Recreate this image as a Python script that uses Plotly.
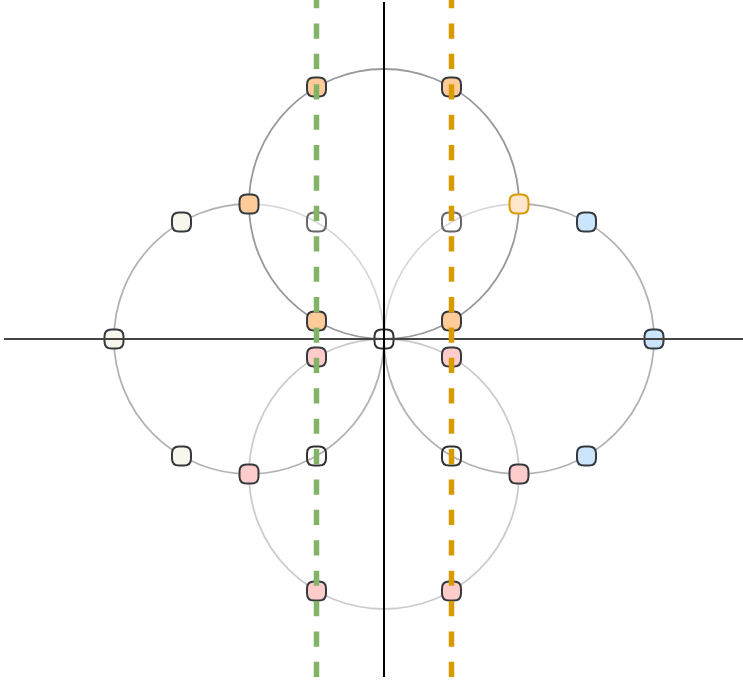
import plotly.graph_objects as go

# ring centres (unit radius) and their outline colours, drawn in this order
ring_x = [0, -1, 1, 0]
ring_y = [-1, 0, 0, 1]
ring_line = ["#cccccc", "#b3b3b3", "#b3b3b3", "#999999"]
ring_fill = ["rgba(0,0,0,0)", "rgba(0,0,0,0)", "rgba(0,0,0,0)", "rgba(255,255,255,0.5)"]

# node points
pt_x = [-0.5, 0.5, -1, 1, -0.5, 0.5, -0.5, 0.5,
        -1.5, -2, -1.5, 1.5, 2, 1.5,
        -0.5, 0.5, -1, 1, -0.5, 0.5, -0.5, 0.5, 0]
pt_y = [1.866, 1.866, 1, 1, 0.134, 0.134, 0.866, 0.866,
        0.866, 0, -0.866, 0.866, 0, -0.866,
        -0.134, -0.134, -1, -1, -1.866, -1.866, -0.866, -0.866, 0]
pt_fill = ["#ffcc99", "#ffcc99", "#ffcc99", "#ffe6cc", "#ffcc99", "#ffcc99",
           "rgba(0,0,0,0)", "rgba(0,0,0,0)",
           "#f9f7ed", "#f9f7ed", "#f9f7ed", "#cce5ff", "#cce5ff", "#cce5ff",
           "#ffcccc", "#ffcccc", "#ffcccc", "#ffcccc", "#ffcccc", "#ffcccc",
           "rgba(0,0,0,0)", "rgba(0,0,0,0)", "rgba(0,0,0,0)"]
pt_edge = ["#36393d"] * 3 + ["#d79b00"] + ["#36393d"] * 2 + ["#666666"] * 2 \
    + ["#36393d"] * 12 + ["#333333"] * 3

# dashed guides
guide_x = [-0.5, 0.5]
guide_color = ["#82b366", "#d79b00"]

scale = 135  # px per unit
W, H = 743, 684
cx, cy = 384, 339

h, r = 9.5, 7
node_path = (f"M {-h+r},{-h} L {h-r},{-h} Q {h},{-h} {h},{-h+r} L {h},{h-r} "
             f"Q {h},{h} {h-r},{h} L {-h+r},{h} Q {-h},{h} {-h},{h-r} "
             f"L {-h},{-h+r} Q {-h},{-h} {-h+r},{-h} Z")

fig = go.Figure()
fig.add_trace(go.Scatter(x=pt_x, y=pt_y, mode="markers",
                         marker=dict(size=1, opacity=0), hoverinfo="skip",
                         showlegend=False))

shapes = []
for x, y, lc, fc in zip(ring_x, ring_y, ring_line, ring_fill):
    shapes.append(dict(type="circle", xref="x", yref="y",
                       x0=x - 1, x1=x + 1, y0=y - 1, y1=y + 1,
                       line=dict(color=lc, width=1.8), fillcolor=fc, layer="below"))

for x, y, fc, ec in zip(pt_x, pt_y, pt_fill, pt_edge):
    shapes.append(dict(type="path", xref="x", yref="y",
                       xsizemode="pixel", ysizemode="pixel",
                       xanchor=x, yanchor=y, path=node_path,
                       fillcolor=fc, line=dict(color=ec, width=2), layer="above"))

# axes
shapes.append(dict(type="line", xref="x", yref="y", x0=-2.815, x1=2.8, y0=0, y1=0,
                   line=dict(color="#444444", width=2), layer="above"))
shapes.append(dict(type="line", xref="x", yref="y", x0=0, x1=0, y0=-2.504, y1=2.496,
                   line=dict(color="#000000", width=2), layer="above"))

for gx, gc in zip(guide_x, guide_color):
    shapes.append(dict(type="line", xref="x", yref="y", x0=gx, x1=gx,
                       y0=-2.504, y1=2.62,
                       line=dict(color=gc, width=5.5, dash="15.2px,15.2px"),
                       layer="above"))

fig.update_layout(
    width=W, height=H,
    margin=dict(l=0, r=0, t=0, b=0),
    paper_bgcolor="white", plot_bgcolor="white",
    shapes=shapes,
    xaxis=dict(range=[-cx / scale, (W - cx) / scale], visible=False, fixedrange=True),
    yaxis=dict(range=[-(H - cy) / scale, cy / scale], visible=False, fixedrange=True),
    showlegend=False,
)

fig.write_html("out.html", config={"displayModeBar": False},
               post_script="document.body.style.margin='0';")
